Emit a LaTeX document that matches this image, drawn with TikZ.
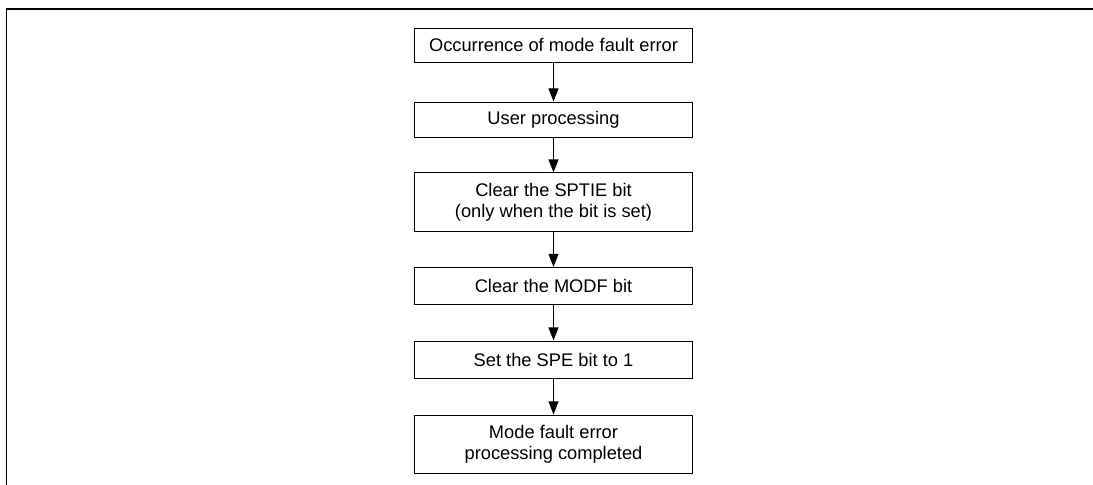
\documentclass[tikz,border=0pt]{standalone}
\usepackage{fontspec}
\setmainfont{Liberation Sans}
\usetikzlibrary{arrows.meta}
\tikzset{
  procbox/.style={draw, rectangle, line width=0.7pt, minimum width=6.925cm, align=center, inner sep=0pt, font=\fontsize{13}{15}\selectfont},
  flow/.style={-{Triangle[length=3.3mm, width=2.5mm]}, line width=0.7pt}
}
\begin{document}
\begin{tikzpicture}[x=0.025cm, y=-0.025cm]
\useasboundingbox (0,0) rectangle (1093,485);
\draw[line width=1.2pt] (1093,9) -- (6.5,9) -- (6.5,485);
\node[procbox, minimum height=0.85cm] (fault) at (553.5,45) {Occurrence of mode fault error};
\node[procbox, minimum height=0.875cm] (user) at (553.5,119.5) {User processing};
\node[procbox, minimum height=1.45cm] (sptie) at (553.5,202) {Clear the SPTIE bit\\(only when the bit is set)};
\node[procbox, minimum height=0.925cm] (modf) at (553.5,286) {Clear the MODF bit};
\node[procbox, minimum height=0.925cm] (spe) at (553.5,359.5) {Set the SPE bit to 1};
\node[procbox, minimum height=1.45cm] (done) at (553.5,444) {Mode fault error\\processing completed};
\draw[flow] (fault) -- (user);
\draw[flow] (user) -- (sptie);
\draw[flow] (sptie) -- (modf);
\draw[flow] (modf) -- (spe);
\draw[flow] (spe) -- (done);
\end{tikzpicture}
\end{document}
